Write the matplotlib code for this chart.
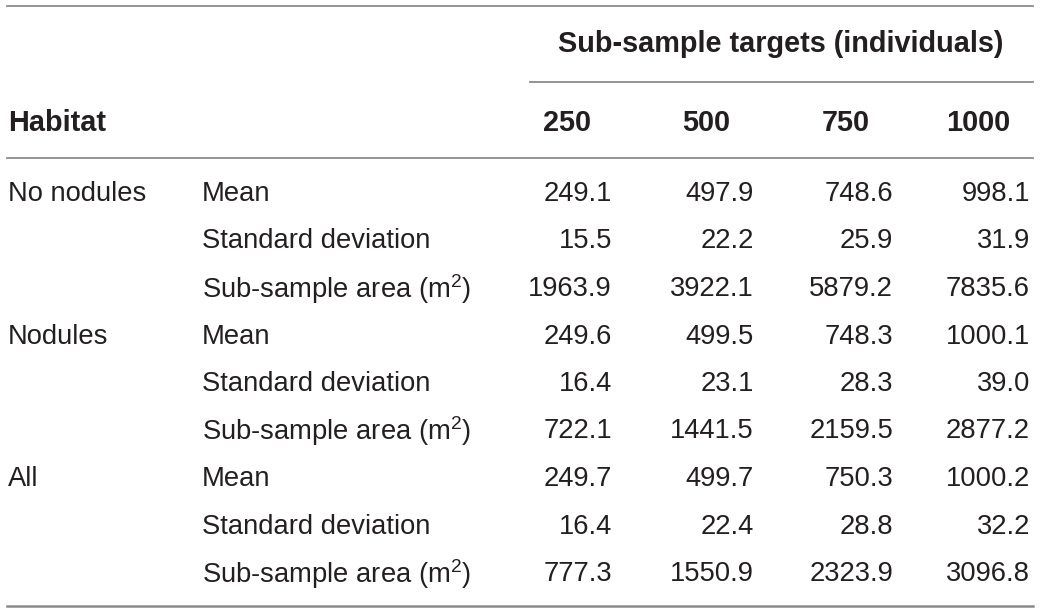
import matplotlib

matplotlib.use("Agg")
import matplotlib.pyplot as plt

# table content
targets = ["250", "500", "750", "1000"]
habitats = ["No nodules", "Nodules", "All"]
stats = ["Mean", "Standard deviation", "Sub-sample area (m$^2$)"]

no_nodules = [[249.1, 497.9, 748.6, 998.1],
              [15.5, 22.2, 25.9, 31.9],
              [1963.9, 3922.1, 5879.2, 7835.6]]
nodules = [[249.6, 499.5, 748.3, 1000.1],
           [16.4, 23.1, 28.3, 39.0],
           [722.1, 1441.5, 2159.5, 2877.2]]
all_hab = [[249.7, 499.7, 750.3, 1000.2],
           [16.4, 22.4, 28.8, 32.2],
           [777.3, 1550.9, 2323.9, 3096.8]]
values = [no_nodules, nodules, all_hab]

plt.rcParams["font.family"] = ["Liberation Sans", "DejaVu Sans"]
plt.rcParams["mathtext.fontset"] = "custom"
plt.rcParams["mathtext.rm"] = "Liberation Sans"
plt.rcParams["mathtext.it"] = "Liberation Sans"

W, H = 1040, 614
fig = plt.figure(figsize=(W / 100, H / 100), dpi=100)
ax = fig.add_axes([0, 0, 1, 1])
ax.set_xlim(0, W)
ax.set_ylim(H, 0)
ax.axis("off")

txt = "#231f20"
rule = "#8a8a8a"
fs = 19.7
fs_b = 20.8

# rules
ax.plot([7, 1033], [6, 6], color=rule, lw=1.3)
ax.plot([530, 1033], [82, 82], color=rule, lw=1.3)
ax.plot([7, 1033], [158, 158], color=rule, lw=1.3)
ax.plot([7, 1033], [606, 606], color=rule, lw=1.8)

# headers
ax.text(781, 44, "Sub-sample targets (individuals)", ha="center", va="center",
        fontsize=fs_b, fontweight="bold", color=txt)
ax.text(8, 123, "Habitat", ha="left", va="center", fontsize=fs_b,
        fontweight="bold", color=txt)
col_left = [543, 682, 822, 946]
col_right = [612, 754, 893, 1030]
for x, t in zip(col_left, targets):
    ax.text(x, 123, t, ha="left", va="center", fontsize=fs_b,
            fontweight="bold", color=txt)

# body
row_y0, row_dy = 194, 47.5
r = 0
for h, block in zip(habitats, values):
    for i, (s, vals) in enumerate(zip(stats, block)):
        y = row_y0 + r * row_dy
        if i == 0:
            ax.text(8, y, h, ha="left", va="center", fontsize=fs, color=txt)
        ax.text(202, y, s, ha="left", va="center", fontsize=fs, color=txt)
        for x, v in zip(col_right, vals):
            ax.text(x, y, f"{v:.1f}", ha="right", va="center", fontsize=fs,
                    color=txt)
        r += 1

fig.savefig("out.png", dpi=100, facecolor="white")
plt.close(fig)
